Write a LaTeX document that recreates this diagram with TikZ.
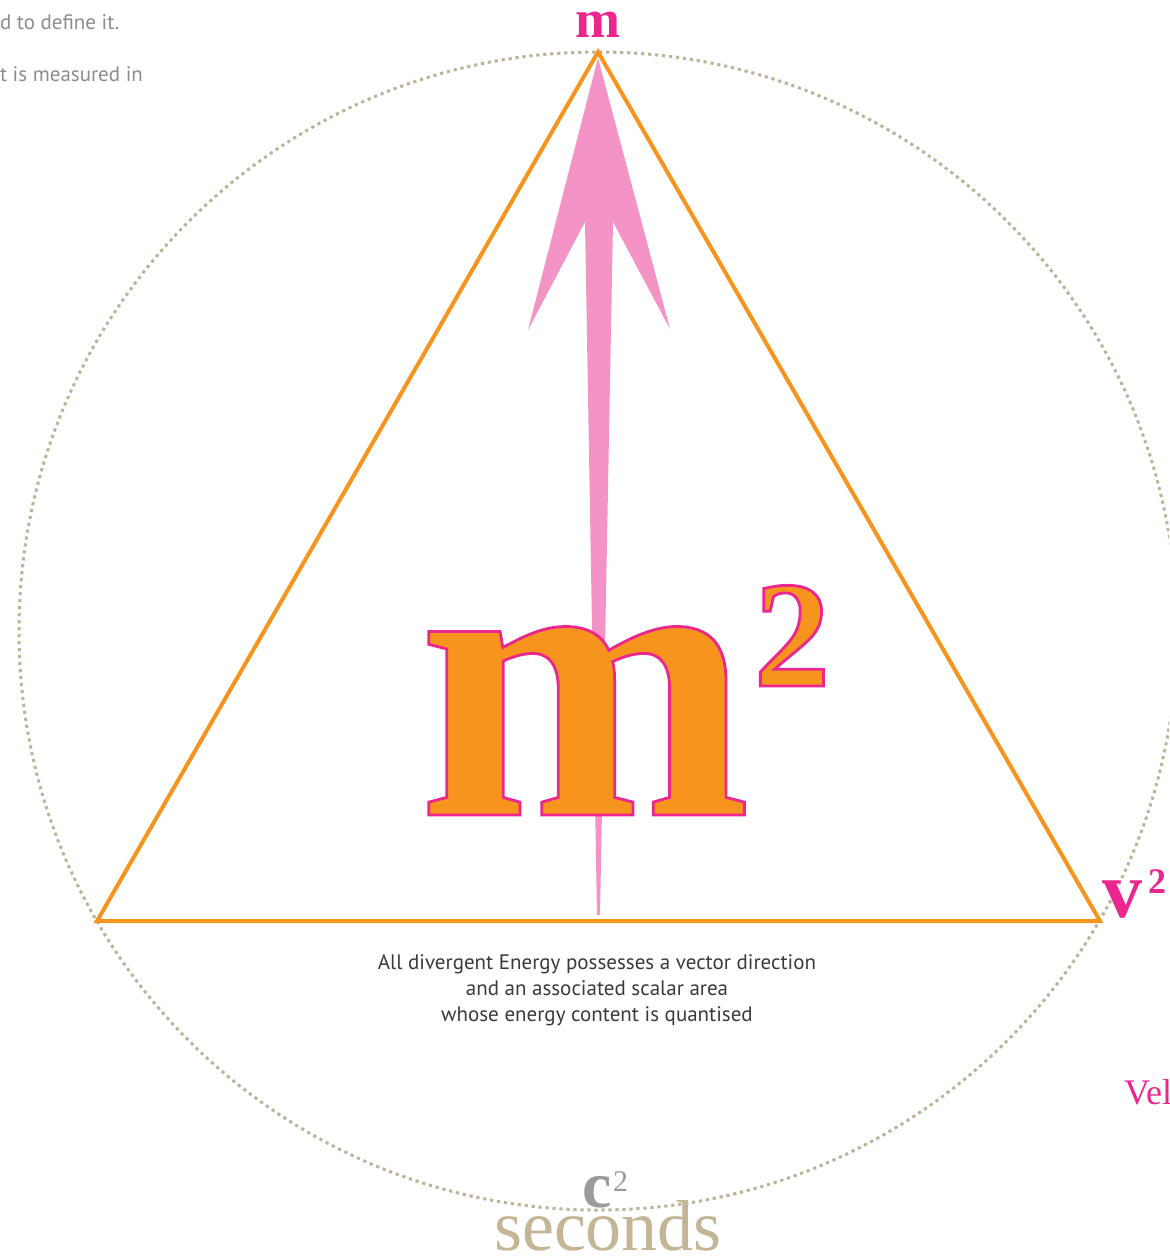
\documentclass[tikz,border=0pt]{standalone}
\usepackage{fontspec}
\setmainfont{Liberation Serif}
\newfontfamily\capfont{PT Sans}
\definecolor{orng}{HTML}{F7941D}
\definecolor{pinkfill}{HTML}{F494C6}
\definecolor{mag}{HTML}{EC268F}
\definecolor{tan}{HTML}{C5B597}
\definecolor{dotc}{HTML}{BFB29A}
\definecolor{cgrey}{HTML}{9A9B9D}
\definecolor{txtgrey}{HTML}{3A3A3A}
\definecolor{topgrey}{HTML}{8C8C8C}
\newcommand\outlinedtext[1]{\special{pdf:literal direct 2 Tr 1.4 w 0.925 0.149 0.561 RG}#1\special{pdf:literal direct 0 Tr}}
\tikzset{
  dotcircle/.style={draw=dotc, line width=1.5pt, dash pattern=on 1.6pt off 1.9pt},
  tri/.style={draw=orng, line width=2pt, line join=miter},
  lbl/.style={inner sep=0pt, outer sep=0pt},
}
\begin{document}
\begin{tikzpicture}[x=0.5pt,y=-0.5pt]
\useasboundingbox (0,0) rectangle (1169,1258);
\clip (0,0) rectangle (1169,1258);
\coordinate (O) at (598,631);
\coordinate (tip) at (598,52);
\coordinate (bl) at (97,921);
\coordinate (br) at (1100,921);
% dotted circle
\draw[dotcircle] (O) circle[radius=579];
% pink arrow
\fill[pinkfill] (598,58) -- (670,329) -- (613,222) -- (600,915) -- (597,915) -- (585,222) -- (528,330) -- cycle;
% triangle
\draw[tri] (tip) -- (br) -- (bl) -- cycle;
% big m^2
\node[lbl, anchor=base west, text=orng, font=\fontsize{200}{200}\selectfont\bfseries] (bigm) at (418,815) {\outlinedtext{m}};
\node[lbl, anchor=base west, text=orng, font=\fontsize{76}{76}\selectfont\bfseries] (bigtwo) at (754,686) {\outlinedtext{2}};
% vertex labels
\node[lbl, anchor=base, text=mag, font=\fontsize{27}{27}\selectfont\bfseries] (mlab) at (598,37) {m};
\node[lbl, anchor=base west, text=mag, font=\fontsize{40}{40}\selectfont\bfseries] (vlab) at (1102,917) {v};
\node[lbl, anchor=base west, text=mag, font=\fontsize{18}{18}\selectfont\bfseries] (vtwo) at (1148,893) {2};
\node[lbl, anchor=base west, text=mag, font=\fontsize{18}{18}\selectfont] (vel) at (1124,1104) {Vel};
\node[lbl, anchor=base west, text=cgrey, font=\fontsize{33}{33}\selectfont\bfseries] (clab) at (582,1207) {c};
\node[lbl, anchor=base west, text=cgrey, font=\fontsize{15}{15}\selectfont] (ctwo) at (613,1191) {2};
\node[lbl, anchor=base, text=tan, font=\fontsize{36}{36}\selectfont] (sec) at (608,1250) {seconds};
% caption
\node[lbl, anchor=north, align=center, text=txtgrey, font=\capfont\fontsize{10.5}{13}\selectfont] (cap) at (597,955)
  {All divergent Energy possesses a vector direction\\and an associated scalar area\\whose energy content is quantised};
% top-left partial texts
\node[lbl, anchor=base west, text=topgrey, font=\capfont\fontsize{10.5}{10.5}\selectfont] (t1) at (0,29) {d to define it.};
\node[lbl, anchor=base west, text=topgrey, font=\capfont\fontsize{10.5}{10.5}\selectfont] (t2) at (0,81) {t is measured in};
\end{tikzpicture}
\end{document}
